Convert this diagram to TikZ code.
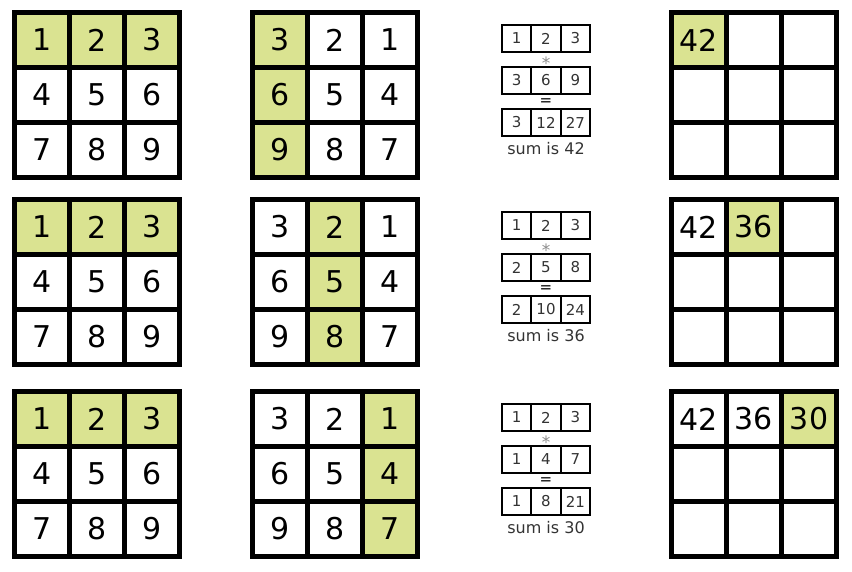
\documentclass[tikz,border=0pt]{standalone}
\usepackage{fontspec}
\setmainfont{DejaVu Sans}
\definecolor{hl}{RGB}{218,227,145}
\begin{document}
\begin{tikzpicture}[x=1pt,y=-1pt,
  big/.style={draw,line width=5pt,minimum width=55pt,minimum height=55pt,inner sep=0pt,fill=white,font=\fontsize{30}{30}\selectfont},
  hlc/.style={fill=hl},
  small/.style={draw,line width=2pt,minimum width=29.33pt,minimum height=27pt,inner sep=0pt,text=black!80,font=\fontsize{15}{15}\selectfont},
  op/.style={inner sep=0pt,font=\fontsize{15}{15}\selectfont},
  sumtxt/.style={inner sep=0pt,text=black!80,font=\fontsize{16}{16}\selectfont}]
\useasboundingbox (0,0) rectangle (852,571);
\foreach \r/\Y/\ma/\mb/\mc/\pa/\pb/\pc/\tot in {1/10/3/6/9/3/12/27/42, 2/197/2/5/8/2/10/24/36, 3/389/1/4/7/1/8/21/30}{
  % first grid
  \foreach \n [count=\k from 0] in {1,2,3,4,5,6,7,8,9}{
    \pgfmathtruncatemacro\i{int(\k/3)}
    \pgfmathtruncatemacro\j{mod(\k,3)}
    \ifnum\i=0 \def\st{hlc}\else\def\st{}\fi
    \node[big,\st] (a\r-\i\j) at (14.5+27.5+55*\j, \Y+2.5+27.5+55*\i) {\n};
  }
  % second grid
  \foreach \n [count=\k from 0] in {3,2,1,6,5,4,9,8,7}{
    \pgfmathtruncatemacro\i{int(\k/3)}
    \pgfmathtruncatemacro\j{mod(\k,3)}
    \pgfmathtruncatemacro\hj{\r-1}
    \ifnum\j=\hj \def\st{hlc}\else\def\st{}\fi
    \node[big,\st] (b\r-\i\j) at (252.5+27.5+55*\j, \Y+2.5+27.5+55*\i) {\n};
  }
  % result grid
  \foreach \k in {0,...,8}{
    \pgfmathtruncatemacro\i{int(\k/3)}
    \pgfmathtruncatemacro\j{mod(\k,3)}
    \pgfmathtruncatemacro\hj{\r-1}
    \def\st{}\def\txt{}
    \ifnum\k=\hj \def\st{hlc}\fi
    \ifnum\i=0
      \ifnum\j<\r
        \ifcase\j \def\txt{42}\or \def\txt{36}\or \def\txt{30}\fi
      \fi
    \fi
    \node[big,\st] (d\r-\i\j) at (671.5+27.5+55*\j, \Y+2.5+27.5+55*\i) {\txt};
  }
  % strips
  \foreach \v [count=\c from 0] in {1,2,3}{
    \node[small] (sa\r-\c) at (546-29.33+29.33*\c, \Y+28.5) {\v};
  }
  \node[op,text=black!45,font=\fontsize{17}{17}\selectfont] (star\r) at (546, \Y+53.5) {*};
  \foreach \v [count=\c from 0] in {\ma,\mb,\mc}{
    \node[small] (sb\r-\c) at (546-29.33+29.33*\c, \Y+70.5) {\v};
  }
  \node[op] (eq\r) at (546, \Y+92) {=};
  \foreach \v [count=\c from 0] in {\pa,\pb,\pc}{
    \node[small] (sc\r-\c) at (546-29.33+29.33*\c, \Y+112.5) {\v};
  }
  \node[sumtxt] (sum\r) at (546, \Y+138.5) {sum is \tot};
}
\end{tikzpicture}
\end{document}
